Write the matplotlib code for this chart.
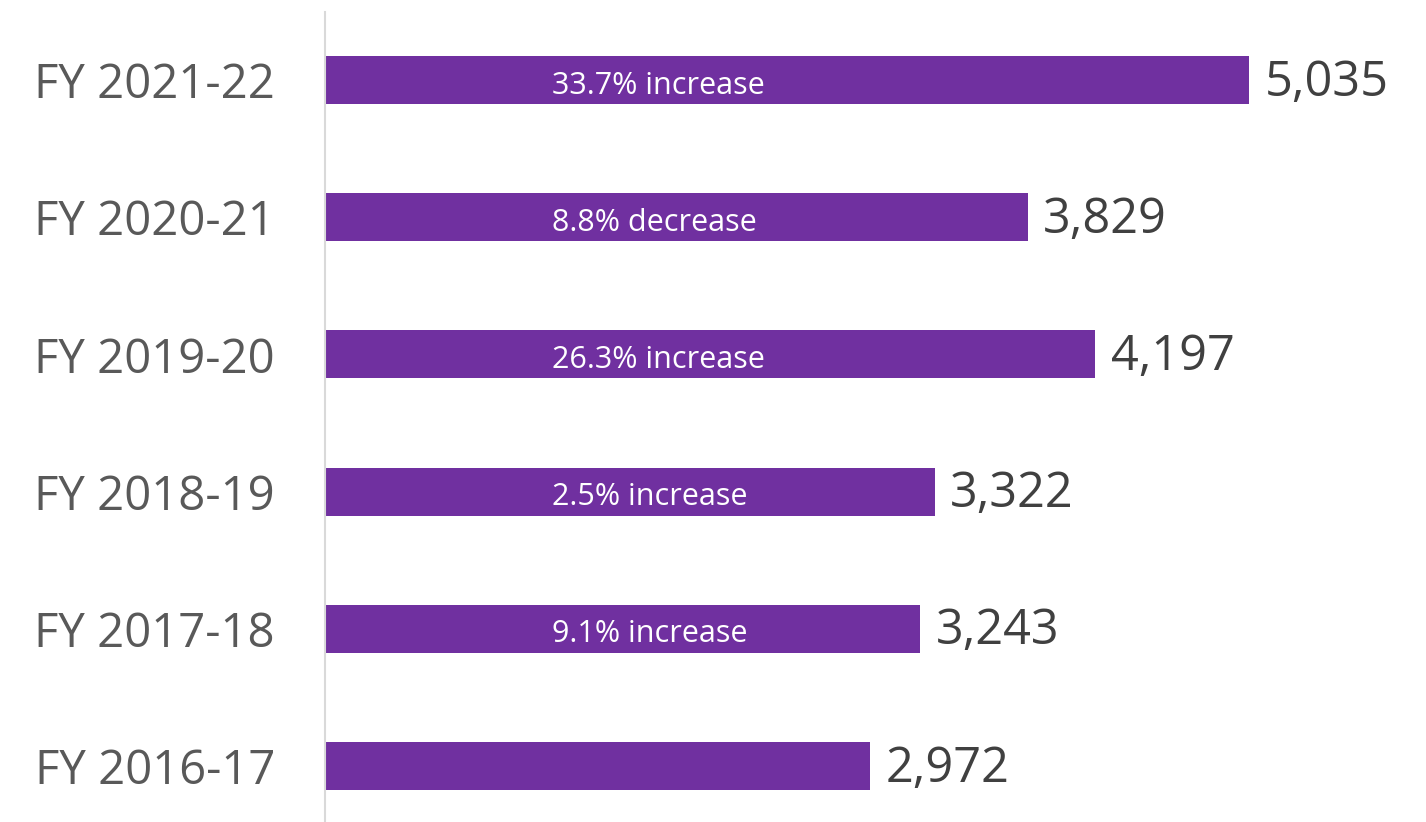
import matplotlib.pyplot as plt # Plotting
import numpy as np # Arrays

plt.rcParams['font.family'] = ['Open Sans', 'DejaVu Sans']

# Data (bottom to top)
years = ['FY 2016-17', 'FY 2017-18', 'FY 2018-19', 'FY 2019-20', 'FY 2020-21', 'FY 2021-22']
counts = [2972, 3243, 3322, 4197, 3829, 5035]
changes = ['', '9.1% increase', '2.5% increase', '26.3% increase', '8.8% decrease', '33.7% increase']

bar_color = '#7030a0'
pos = np.arange(len(years))

fig = plt.figure(figsize=(14.26, 8.22), dpi=100)
ax = fig.add_axes([325/1426, 0, 1 - 325/1426, 810/822])

ax.barh(pos, counts, height=0.35, color=bar_color)

# Value labels at bar ends
for y, v in zip(pos, counts):
    ax.text(v + 85, y - 0.02, '{:,}'.format(v), va='center', ha='left', fontsize=35, color='#404040')

# Percentage change labels inside bars
for y, c in zip(pos, changes):
    if c:
        ax.text(1237, y - 0.04, c, va='center', ha='left', fontsize=22, color='white')

ax.set_xlim(0, 6000)
ax.set_ylim(-0.408, 5.496)
ax.set_yticks(pos)
ax.set_yticklabels(years, fontsize=34, color='#595959')
ax.tick_params(axis='y', length=0, pad=36)
ax.set_xticks([])

for s in ['top', 'right', 'bottom']:
    ax.spines[s].set_visible(False)
ax.spines['left'].set_color('#d9d9d9')
ax.spines['left'].set_linewidth(1.5)

fig.savefig('out.png', dpi=100)
